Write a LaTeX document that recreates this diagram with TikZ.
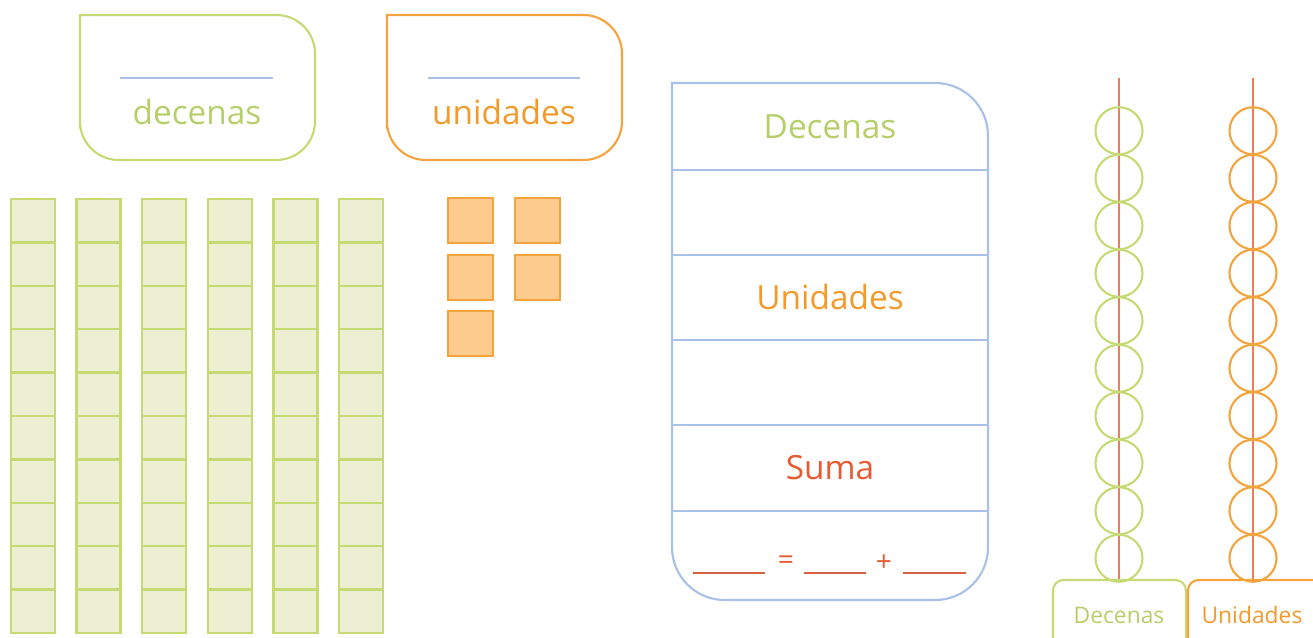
\documentclass[tikz,border=0pt]{standalone}
\usepackage{fontspec}
\setmainfont{Open Sans}
\usetikzlibrary{positioning,calc}
\definecolor{dcGreen}{HTML}{C5DA73}
\definecolor{dcText}{HTML}{B7CF6A}
\definecolor{dcFill}{HTML}{EDEFD3}
\definecolor{unOrange}{HTML}{F5A33D}
\definecolor{unText}{HTML}{F29A2C}
\definecolor{unFill}{HTML}{FDCB8D}
\definecolor{tbBlue}{HTML}{A9C0E7}
\definecolor{smRed}{HTML}{E75B33}
\definecolor{rodRed}{HTML}{F07A5A}

\begin{document}
\begin{tikzpicture}[x=0.02cm, y=-0.02cm,
  frame/.style={line width=1.2pt},
  blank/.style={draw=tbBlue, line width=1pt},
  title/.style={font=\fontsize{19}{22}\selectfont, inner sep=0pt},
  small/.style={font=\fontsize{13}{15}\selectfont, inner sep=0pt},
  sign/.style={font=\fontsize{16}{18}\selectfont, inner sep=0pt, text=smRed},
  eqline/.style={draw=smRed!85!gray, line width=1.1pt},
  tencell/.style={draw=dcGreen, fill=dcFill, line width=1.4pt},
  onecell/.style={draw=unOrange, fill=unFill, line width=1.4pt},
  rod/.style={draw=rodRed, line width=0.8pt},
  bead/.style={line width=1.2pt}
]
  \useasboundingbox (0,0) rectangle (1313,638);

  % cartelas de arriba
  \draw[frame, dcGreen] (80,90) -- (80,15) [rounded corners=22] -- (315,15) -- (315,160) -- (80,160) -- cycle;
  \draw[blank] (120,78) -- (273,78);
  \node[title, text=dcText] (decname) at (197,112) {decenas};
  \draw[frame, unOrange] (387,90) -- (387,15) [rounded corners=22] -- (622,15) -- (622,160) -- (387,160) -- cycle;
  \draw[blank] (428,78) -- (580,78);
  \node[title, text=unText] (uniname) at (504,112) {unidades};

  % barras de decenas
  \foreach \c in {0,...,5}
    \foreach \r in {0,...,9}
      \draw[tencell] ({11+65.6*\c},{199+43.4*\r}) rectangle ++(44,43.4);

  % cubos de unidades
  \foreach \p/\q in {448/198, 515/198, 448/255, 515/255, 448/311}
    \draw[onecell] (\p,\q) rectangle ++(45,45);

  % tabla central
  \draw[frame, tbBlue] (672,300) -- (672,83) [rounded corners=30] -- (988,83) -- (988,600) -- (672,600) -- cycle;
  \foreach \y in {170,255,340,425,511}
    \draw[frame, tbBlue] (672,\y) -- (988,\y);
  \node[title, text=dcText] (tdec) at (830,127) {Decenas};
  \node[title, text=unText] (tuni) at (830,297) {Unidades};
  \node[title, text=smRed] (tsum) at (830,468) {Suma};
  \draw[eqline] (693,573) -- (765,573);
  \node[sign] (eq) at (786,563) {=};
  \draw[eqline] (804,573) -- (866,573);
  \node[sign] (plus) at (884,563) {+};
  \draw[eqline] (903,573) -- (966,573);

  % abaco
  \draw[rod] (1119,78) -- (1119,582);
  \draw[rod] (1253,78) -- (1253,582);
  \foreach \k in {0,...,9} {
    \draw[bead, dcGreen] (1119,{130.75+47.5*\k}) circle (23.5);
    \draw[bead, unOrange] (1253,{130.75+47.5*\k}) circle (23.5);
  }
  \draw[frame, dcGreen] (1053,645) [rounded corners=6] -- (1053,580) -- (1186,580) -- (1186,645);
  \draw[frame, unOrange] (1188,645) [rounded corners=6] -- (1188,580) -- (1320,580);
  \node[small, text=dcText] (adec) at (1119,615) {Decenas};
  \node[small, text=unText] (auni) at (1252,615) {Unidades};
\end{tikzpicture}
\end{document}
